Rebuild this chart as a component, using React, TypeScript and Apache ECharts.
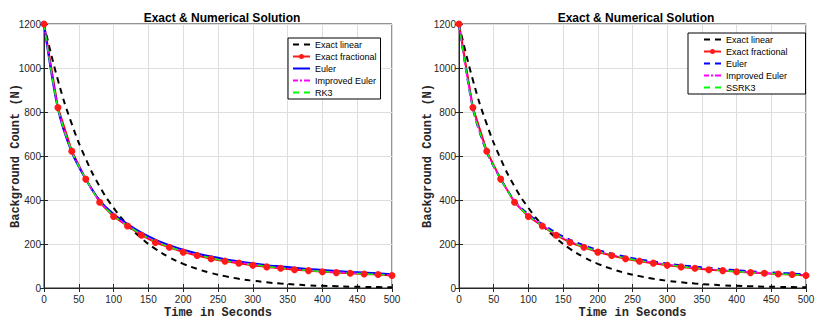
import React, { useEffect, useRef } from "react";
import * as echarts from "echarts";

const TIME = [0, 20, 40, 60, 80, 100, 120, 140, 160, 180, 200, 220, 240, 260, 280, 300, 320, 340, 360, 380, 400, 420, 440, 460, 480, 500];
const EXACT_LINEAR = [1200, 945, 745, 587, 462, 364, 287, 226, 178, 140, 110, 87, 68, 54, 42, 33, 26, 20, 16, 12, 10, 8, 6, 5, 4, 3];
const EXACT_FRACTIONAL = [1200, 820, 622, 495, 390, 325, 282, 240, 207, 185, 163, 148, 133, 122, 113, 103, 96, 90, 83, 79, 74, 70, 67, 64, 61, 57];
const EULER_A = [1200, 815, 616, 494, 398, 336, 291, 252, 220, 195, 174, 157, 143, 131, 121, 112, 104, 98, 92, 86, 82, 77, 73, 70, 67, 63];
const IMPROVED_EULER_A = [1200, 818, 620, 496, 394, 330, 285, 245, 212, 188, 167, 151, 137, 125, 116, 107, 99, 92, 86, 81, 76, 72, 68, 65, 62, 59];
const RK3_A = [1200, 819, 621, 496, 393, 329, 284, 244, 211, 187, 166, 150, 136, 124, 115, 106, 98, 91, 85, 80, 75, 71, 67, 64, 61, 58];
const EULER_B = [1200, 817, 618, 496, 397, 335, 290, 251, 219, 194, 173, 156, 142, 130, 120, 111, 103, 97, 91, 85, 81, 76, 72, 69, 66, 61];
const IMPROVED_EULER_B = [1200, 818, 620, 496, 394, 330, 285, 245, 212, 188, 167, 151, 137, 125, 116, 107, 99, 92, 86, 81, 76, 72, 68, 65, 62, 59];
const SSRK3_B = [1200, 819, 621, 496, 393, 329, 284, 244, 211, 187, 166, 150, 136, 124, 115, 106, 98, 91, 85, 80, 75, 71, 67, 64, 61, 58];

const TITLE = "Exact & Numerical Solution";
const X_NAME = "Time in Seconds";
const Y_NAME = "Background Count (N)";
const LEGEND_A = ["Exact linear", "Exact fractional", "Euler", "Improved Euler", "RK3"];
const LEGEND_B = ["Exact linear", "Exact fractional", "Euler", "Improved Euler", "SSRK3"];

const pair = (ys: number[]) => TIME.map((t, i) => [t, ys[i]]);

const AX = "#262626";
const SANS = "Liberation Sans, Arial, sans-serif";
const MONO = "Liberation Mono, Courier New, monospace";

const ICON_DASH = "path://M0,0h6v2h-6z M11,0h6v2h-6z";
const ICON_SOLID = "path://M0,0h17v2h-17z";
const ICON_DASHDOT = "path://M0,0h5v2h-5z M7,0h2v2h-2z M11,0h6v2h-6z";
const ICON_MARKER = "path://M0,1.5h17v2h-17z M6,2.5 a2.5,2.5 0 1,1 5,0 a2.5,2.5 0 1,1 -5,0z";

function xAxes(gridIndex: number) {
  const base = {
    gridIndex,
    type: "value",
    min: 0,
    max: 500,
    interval: 50,
    axisLine: { show: true, lineStyle: { color: AX, width: 1 } },
    axisTick: { show: true, inside: true, length: 4, lineStyle: { color: AX } },
  };
  return [
    {
      ...base,
      position: "bottom",
      name: X_NAME,
      nameLocation: "middle",
      nameGap: 19,
      nameMoveOverlap: false,
      nameTextStyle: { fontFamily: MONO, fontWeight: "bold", fontSize: 12, color: AX },
      axisLabel: { fontFamily: SANS, fontSize: 10, color: AX, margin: 6 },
      splitLine: { show: true, lineStyle: { color: "#dedede", width: 1 } },
    },
    { ...base, position: "top", axisLabel: { show: false }, splitLine: { show: false } },
  ];
}

function yAxes(gridIndex: number, nameGap: number) {
  const base = {
    gridIndex,
    type: "value",
    min: 0,
    max: 1200,
    interval: 200,
    axisLine: { show: true, lineStyle: { color: AX, width: 1 } },
    axisTick: { show: true, inside: true, length: 4, lineStyle: { color: AX } },
  };
  return [
    {
      ...base,
      position: "left",
      name: Y_NAME,
      nameLocation: "middle",
      nameGap,
      nameMoveOverlap: false,
      nameTextStyle: { fontFamily: MONO, fontWeight: "bold", fontSize: 12, color: AX },
      axisLabel: { fontFamily: SANS, fontSize: 10, color: AX, margin: 3, formatter: (v: number) => String(v) },
      splitLine: { show: true, lineStyle: { color: "#dedede", width: 1 } },
    },
    { ...base, position: "right", axisLabel: { show: false }, splitLine: { show: false } },
  ];
}

function seriesFor(prefix: string, xi: number, yi: number, euler: number[], imp: number[], rk: number[], names: string[], eulerDashed: boolean) {
  const common = { type: "line", xAxisIndex: xi, yAxisIndex: yi, symbol: "none", z: 3 };
  return [
    { ...common, name: prefix + names[0], data: pair(EXACT_LINEAR), smooth: true, lineStyle: { color: "#000000", width: 2, type: [6, 5] }, itemStyle: { color: "#000000" } },
    {
      ...common,
      name: prefix + names[1],
      data: pair(EXACT_FRACTIONAL),
      symbol: "circle",
      symbolSize: 7,
      lineStyle: { color: "#ff0000", width: 2 },
      itemStyle: { color: "#ff1a1a", borderColor: "#ff0000", borderWidth: 0 },
    },
    { ...common, name: prefix + names[2], data: pair(euler), smooth: 0.3, lineStyle: { color: "#0000ff", width: 2, type: eulerDashed ? [6, 5] : "solid" }, itemStyle: { color: "#0000ff" } },
    { ...common, name: prefix + names[3], data: pair(imp), smooth: 0.3, lineStyle: { color: "#ff00ff", width: 1.5, type: [6, 2, 2, 2] }, itemStyle: { color: "#ff00ff" } },
    { ...common, name: prefix + names[4], data: pair(rk), smooth: 0.3, lineStyle: { color: "#00ff00", width: 1.5, type: [6, 5] }, itemStyle: { color: "#00ff00" } },
  ];
}

function legendData(prefix: string, names: string[], eulerDashed: boolean) {
  const icons = [ICON_DASH, ICON_MARKER, eulerDashed ? ICON_DASH : ICON_SOLID, ICON_DASHDOT, ICON_DASH];
  return names.map((n, i) => ({ name: prefix + n, icon: icons[i] }));
}

export default function App() {
  const ref = useRef<HTMLDivElement>(null);
  useEffect(() => {
    if (!ref.current) return;
    const chart = echarts.init(ref.current, null, { renderer: "svg" });
    const legendCommon = {
      orient: "vertical",
      backgroundColor: "#ffffff",
      borderColor: "#000000",
      borderWidth: 1,
      borderRadius: 0,
      itemWidth: 17,
      itemHeight: 12,
      itemGap: 0,
      symbolKeepAspect: true,
      formatter: (n: string) => n.replace(/^R:/, ""),
      textStyle: { fontFamily: SANS, fontSize: 9, color: "#000000", lineHeight: 12 },
      selectedMode: false,
    };
    chart.setOption({
      animation: false,
      backgroundColor: "#ffffff",
      title: [
        { text: TITLE, left: 217, top: 7, textAlign: "center", textStyle: { fontFamily: SANS, fontSize: 12, fontWeight: "bold", color: "#000000" } },
        { text: TITLE, left: 631, top: 7, textAlign: "center", textStyle: { fontFamily: SANS, fontSize: 12, fontWeight: "bold", color: "#000000" } },
      ],
      grid: [
        { left: 44, width: 348, top: 24, height: 264, show: true, borderColor: AX, borderWidth: 1, backgroundColor: "#ffffff", outerBoundsMode: "none", containLabel: false },
        { left: 459, width: 347, top: 24, height: 264, show: true, borderColor: AX, borderWidth: 1, backgroundColor: "#ffffff", outerBoundsMode: "none", containLabel: false },
      ],
      legend: [
        { ...legendCommon, left: 288, top: 38, padding: [0.5, 4, 0.5, 5], data: legendData("", LEGEND_A, false) },
        { ...legendCommon, left: 688, top: 33, padding: [0.5, 18, 0.5, 16], data: legendData("R:", LEGEND_B, true) },
      ],
      xAxis: [...xAxes(0), ...xAxes(1)],
      yAxis: [...yAxes(0, 22), ...yAxes(1, 25)],
      series: [
        ...seriesFor("", 0, 0, EULER_A, IMPROVED_EULER_A, RK3_A, LEGEND_A, false),
        ...seriesFor("R:", 2, 2, EULER_B, IMPROVED_EULER_B, SSRK3_B, LEGEND_B, true),
      ],
    });
    return () => chart.dispose();
  }, []);
  return <div ref={ref} style={{ position: "fixed", left: 0, top: 0, width: 820, height: 323 }} />;
}
